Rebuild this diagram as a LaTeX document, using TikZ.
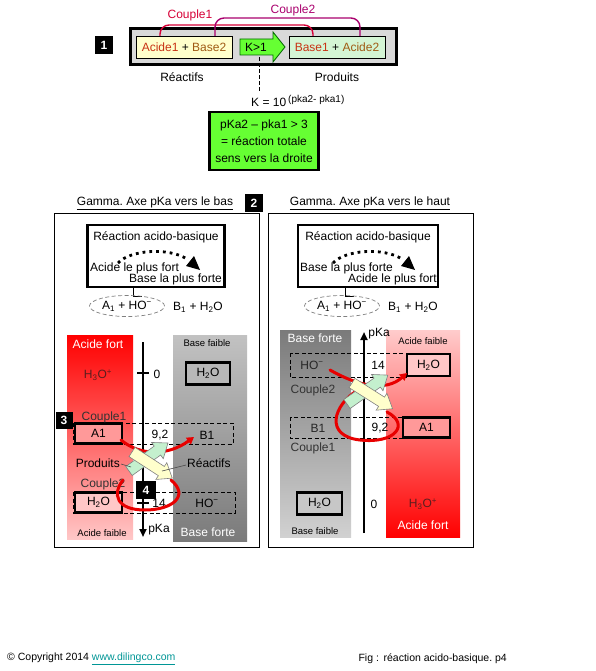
\documentclass[tikz,border=0pt]{standalone}
\usepackage{fontspec}
\setmainfont{Liberation Sans}
\usetikzlibrary{arrows.meta,shapes.geometric,calc}
\frenchspacing
\definecolor{cpA}{RGB}{215,0,55}
\definecolor{cpB}{RGB}{170,0,110}
\definecolor{redT}{RGB}{200,50,20}
\definecolor{brT}{RGB}{160,90,20}
\definecolor{ylw}{RGB}{255,255,204}
\definecolor{lgr}{RGB}{212,245,212}
\definecolor{vgr}{RGB}{102,255,51}
\definecolor{mint}{RGB}{196,240,206}
\definecolor{linkc}{RGB}{0,150,150}
\definecolor{redL}{RGB}{232,0,0}
\definecolor{darkred}{RGB}{90,30,30}
\newcommand{\blockarrow}[4]{%
  \begin{scope}[shift={#2}, rotate=#3]
    \draw[#1] (0,-5.5) -- ({#4-13},-5.5) -- ({#4-13},-10) -- (#4,0) -- ({#4-13},10) -- ({#4-13},5.5) -- (0,5.5) -- cycle;
  \end{scope}}
\newcommand{\dotarc}{%
  \draw[line width=2.8pt, dash pattern=on 2.8pt off 4pt] (118,263) .. controls (130,250) and (168,247) .. (187,259);
  \fill (194,256) -- (186,266) -- (200,270) -- cycle;}
\begin{document}
\begin{tikzpicture}[x=1pt,y=-1pt,
  txt/.style={font=\fontsize{12}{14}\selectfont, inner sep=0pt},
  smalltxt/.style={font=\fontsize{9.5}{11}\selectfont, inner sep=0pt},
  numsq/.style={fill=black, text=white, font=\bfseries\fontsize{12}{12}\selectfont, minimum width=18pt, minimum height=18pt, inner sep=0pt},
  thickbox/.style={draw=black, line width=2.5pt, inner sep=0pt, font=\fontsize{12}{14}\selectfont},
  dbox/.style={draw=black, dash pattern=on 4pt off 2.5pt, line width=0.7pt},
  redc/.style={draw=redL, line width=3pt, line cap=round},
  creamarrow/.style={fill=ylw, draw=gray, line width=0.6pt},
  greenarrow/.style={fill=mint, draw=gray, line width=0.6pt},
  leader/.style={draw=gray!60!black, line width=0.6pt}]
\useasboundingbox (0,0) rectangle (595,671);
\fill[white] (0,0) rectangle (595,671);

% ---------- top section ----------
\node[numsq] (n1) at (104,45) {1};
\node[draw, line width=3pt, fill=black!15, minimum width=266pt, minimum height=36pt, inner sep=0pt] (outer) at (263,47) {};
\node[draw, line width=0.6pt, fill=ylw, minimum width=96pt, minimum height=22pt, txt] (reac) at (184,47) {\textcolor{redT}{Acide1} + \textcolor{brT}{Base2}};
\node[draw, line width=0.6pt, fill=lgr, minimum width=96pt, minimum height=22pt, txt] (prod) at (337,47) {\textcolor{redT}{Base1} + \textcolor{brT}{Acide2}};
\draw[fill=vgr, draw=black!60!green, line width=0.8pt] (240,39) -- (273,39) -- (273,32) -- (285,47) -- (273,62) -- (273,55) -- (240,55) -- cycle;
\node[txt] (k1) at (256,47) {K>1};
\coordinate (c1a) at (160,36); \coordinate (c1b) at (313,36);
\coordinate (c2a) at (215,36); \coordinate (c2b) at (360,36);
\draw[cpA, line width=1.4pt, rounded corners=9pt] (c1a) -- (160,25) -- (313,25) -- (c1b);
\draw[cpB, line width=1.4pt, rounded corners=9pt] (c2a) -- (215,18) -- (360,18) -- (c2b);
\node[txt, text=cpA] (lc1) at (190,15) {Couple1};
\node[txt, text=cpB] (lc2) at (293,10) {Couple2};
\node[txt] (lreac) at (182,77) {Réactifs};
\node[txt] (lprod) at (337,77) {Produits};
\coordinate (kd) at (259,91);
\draw[dash pattern=on 4pt off 2pt, line width=0.6pt] (259,57) -- (kd);
\node[txt, anchor=west] (kform) at (251,101) {K = 10\,\raisebox{4.5pt}{\fontsize{10}{10}\selectfont(pka2- pka1)}};
\node[draw, line width=2.5pt, fill=vgr, minimum width=109pt, minimum height=58pt, align=center, inner sep=0pt, font=\fontsize{12}{17}\selectfont] (gbox) at (264,141) {pKa2 – pka1 > 3\\= réaction totale\\sens vers la droite};

% ---------- titles ----------
\node[txt] (t1) at (155,203) {\underline{Gamma. Axe pKa vers le bas}};
\node[numsq] (n2) at (254,203) {2};
\node[txt] (t2) at (370,203) {\underline{Gamma. Axe pKa vers le haut}};

% ---------- left panel ----------
\node[draw, line width=0.8pt, minimum width=205pt, minimum height=334pt, inner sep=0pt] (pl) at (156.5,380) {};
\node[draw, line width=2.5pt, minimum width=137pt, minimum height=62pt, inner sep=0pt] (rbL) at (156,256) {};
\node[txt] (rtL) at (156,237) {Réaction acido-basique};
\dotarc
\node[txt, anchor=west] (afL) at (90,268) {Acide le plus fort};
\node[txt, anchor=east] (bfL) at (222,279) {Base la plus forte};
\draw[line width=0.6pt] (133,287) -- (133,296) -- (142,296);
\node[draw=gray, dash pattern=on 4pt off 2.5pt, line width=0.7pt, ellipse, minimum width=75pt, minimum height=21pt, inner sep=0pt, txt] (elL) at (127,306) {A\textsubscript{1} + HO\textsuperscript{−}};
\node[txt] (bL) at (198,307) {B\textsubscript{1} + H\textsubscript{2}O};

\shade[top color=red, bottom color=red!22] (67,335) rectangle (133,539);
\shade[top color=black!24, bottom color=black!52] (173,335) rectangle (247,541);
\node[txt, text=white] at (98,344) {Acide fort};
\node[smalltxt] at (102,533) {Acide faible};
\node[smalltxt] at (207,343) {Base faible};
\node[txt, text=white] at (208,532) {Base forte};
\node[txt, text=darkred] at (98,375) {H\textsubscript{3}O\textsuperscript{+}};

\draw[line width=2pt, -{Triangle[length=8pt,width=7pt]}] (143,342) -- (143,537);
\draw[line width=1.5pt] (137,373) -- (149,373);
\draw[line width=1.5pt] (137,503) -- (149,503);
\node[txt] at (157,374) {0};
\node[txt] at (159,530) {pKa};

\draw[dbox] (73,423) rectangle (233,444);
\draw[dbox] (73,492) rectangle (235,513);
\node[thickbox, fill=red!40, minimum width=47pt, minimum height=20pt] (a1L) at (98.5,433.5) {A1};
\node[thickbox, fill=red!22, minimum width=47pt, minimum height=20pt] (h2oL) at (98.5,502.5) {H\textsubscript{2}O};
\node[thickbox, fill=black!28, minimum width=44pt, minimum height=22pt] (h2oLb) at (208,373.5) {H\textsubscript{2}O};
\node[txt] at (160,435) {9,2};
\node[txt] at (207,435) {B1};
\node[txt] at (159,503) {14};
\node[txt] at (207,503) {HO\textsuperscript{−}};
\node[txt, text=black!80] at (104,417) {Couple1};
\node[txt, text=black!80] at (103,484) {Couple2};

\draw[redc, -{Triangle[length=7pt,width=8pt]}] (121,440) .. controls (140,456) and (168,456) .. (194,437);
\draw[redc] (123,480) .. controls (112,494) and (116,510) .. (145,510) .. controls (172,510) and (190,496) .. (171,480);
\blockarrow{greenarrow}{(129,471)}{35.7}{48}
\blockarrow{creamarrow}{(132,452)}{-33}{48}
\node[txt, anchor=east] (prL) at (120,463) {Produits};
\draw[leader] (121,464) -- (131,467);
\node[txt, anchor=west] (reL) at (187,463) {Réactifs};
\draw[leader] (186,465) -- (162,471);
\node[numsq, minimum width=17pt, minimum height=17pt] (n3) at (64,420) {3};
\node[numsq, minimum width=20pt, minimum height=18pt] (n4) at (146,490) {4};

% ---------- right panel ----------
\node[draw, line width=0.8pt, minimum width=205pt, minimum height=334pt, inner sep=0pt] (pr) at (370.5,380) {};
\node[draw, line width=2.5pt, minimum width=140pt, minimum height=62pt, inner sep=0pt] (rbR) at (368,256) {};
\node[txt] (rtR) at (368,237) {Réaction acido-basique};
\begin{scope}[xshift=215pt]\dotarc\end{scope}
\node[txt, anchor=west] (bfR) at (300,268) {Base la plus forte};
\node[txt, anchor=east] (afR) at (437,279) {Acide le plus fort};
\draw[line width=0.6pt] (345,287) -- (345,296) -- (354,296);
\node[draw=gray, dash pattern=on 4pt off 2.5pt, line width=0.7pt, ellipse, minimum width=75pt, minimum height=21pt, inner sep=0pt, txt] (elR) at (342,306) {A\textsubscript{1} + HO\textsuperscript{−}};
\node[txt] (bR) at (413,307) {B\textsubscript{1} + H\textsubscript{2}O};

\shade[top color=black!52, bottom color=black!18] (280,330) rectangle (351,537);
\shade[top color=red!20, bottom color=red] (386,330) rectangle (460,537);
\node[txt, text=white] at (315,338) {Base forte};
\node[smalltxt] at (315,531) {Base faible};
\node[smalltxt] at (423,341) {Acide faible};
\node[txt, text=white] at (423,525) {Acide fort};
\node[txt, text=darkred] at (423,504) {H\textsubscript{3}O\textsuperscript{+}};

\draw[line width=2pt, -{Triangle[length=8pt,width=7pt]}] (364,533) -- (364,332);
\node[txt] at (379,334) {pKa};
\node[txt] at (374,504) {0};

\draw[dbox] (290,353) rectangle (407,377);
\draw[dbox] (290,417) rectangle (403,438);
\node[thickbox, fill=red!22, minimum width=43pt, minimum height=22pt] (h2oR) at (428.5,365) {H\textsubscript{2}O};
\node[thickbox, fill=red!40, minimum width=47pt, minimum height=20pt] (a1R) at (426.5,427.5) {A1};
\node[thickbox, fill=black!22, minimum width=45pt, minimum height=22pt] (h2oRb) at (319.5,503.5) {H\textsubscript{2}O};
\node[txt, text=black!85] at (312,365) {HO\textsuperscript{−}};
\node[txt] at (378,365) {14};
\node[txt, text=black!80] at (313,390) {Couple2};
\node[txt, text=black!85] at (318,428) {B1};
\node[txt] at (380,428) {9,2};
\node[txt, text=black!80] at (313,448) {Couple1};

\draw[redc, -{Triangle[length=7pt,width=8pt]}] (330,370) .. controls (358,386) and (386,392) .. (407,373);
\draw[redc] (358,390) .. controls (333,405) and (324,436) .. (360,440) .. controls (396,444) and (410,424) .. (387,412);
\blockarrow{greenarrow}{(347,404)}{35.3}{50}
\blockarrow{creamarrow}{(352,383)}{-32.4}{48}

% ---------- footer ----------
\node[anchor=west, inner sep=0pt, font=\fontsize{10.5}{12}\selectfont] (copy) at (7,659) {© Copyright 2014 \textcolor{linkc}{\underline{www.dilingco.com}}};
\node[anchor=east, inner sep=0pt, font=\fontsize{10.5}{12}\selectfont] (fig) at (507,659) {Fig :\, réaction acido-basique. p4};
\end{tikzpicture}
\end{document}
